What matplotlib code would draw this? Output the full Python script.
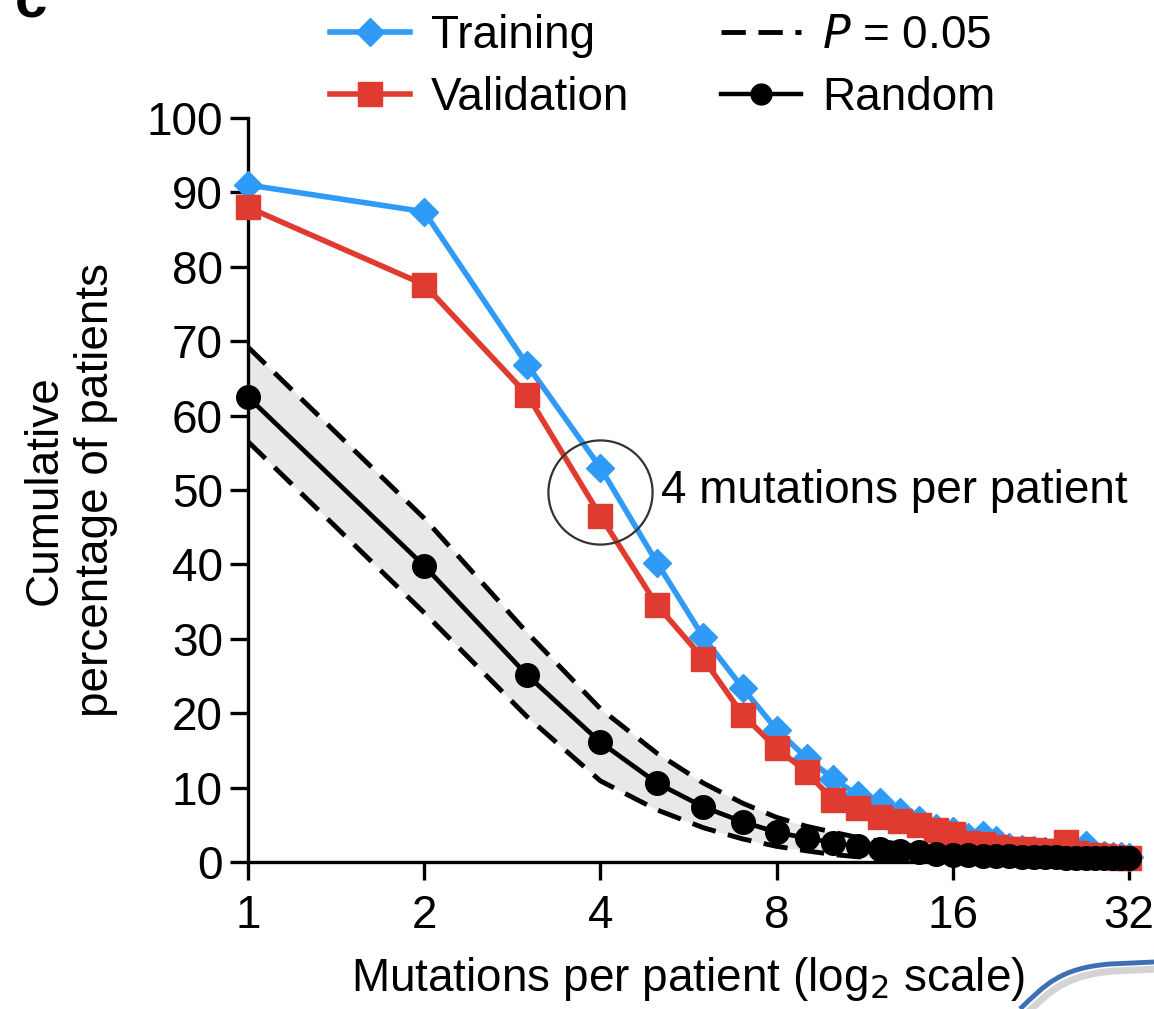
import matplotlib
matplotlib.use("Agg")
import matplotlib.pyplot as plt
from matplotlib.path import Path
from matplotlib.patches import PathPatch
from matplotlib.lines import Line2D

plt.rcParams['font.family'] = ['Liberation Sans', 'DejaVu Sans']

# mutations per patient (1..32)
mutations = list(range(1, 33))

training = [91.0, 87.4, 66.8, 53.0, 40.2, 30.2, 23.4, 17.8, 14.0, 11.2,
            9.0, 8.0, 6.7, 5.6, 4.6, 4.2, 3.4, 3.6, 3.0, 2.0,
            1.8, 1.6, 1.5, 1.4, 1.3, 1.2, 2.3, 1.0, 0.9, 0.8, 0.8, 0.7]
validation = [88.0, 77.6, 62.8, 46.5, 34.5, 27.3, 19.8, 15.3, 12.1, 8.3,
              7.3, 6.0, 5.5, 5.0, 4.3, 3.8, 2.6, 2.4, 2.0, 1.8,
              1.7, 1.6, 1.5, 1.5, 2.7, 1.2, 1.0, 0.9, 0.8, 0.7, 0.6, 0.5]
random_mean = [62.5, 39.8, 25.1, 16.1, 10.6, 7.4, 5.4, 4.0, 3.2, 2.6,
               2.1, 1.8, 1.5, 1.3, 1.1, 1.0, 0.9, 0.85, 0.8, 0.75,
               0.7, 0.7, 0.65, 0.65, 0.6, 0.6, 0.6, 0.55, 0.55, 0.5, 0.5, 0.5]
upper = [69.2, 46.2, 30.8, 20.6, 14.6, 10.6, 7.9, 6.0, 4.8, 4.0,
         3.3, 2.8, 2.4, 2.1, 1.9, 1.7, 1.5, 1.4, 1.3, 1.2,
         1.2, 1.1, 1.1, 1.0, 1.0, 1.0, 1.0, 1.0, 1.0, 1.0, 1.0, 1.0]
lower = [56.5, 33.5, 19.5, 10.9, 7.0, 4.6, 3.1, 2.1, 1.5, 1.0,
         0.7, 0.5, 0.3, 0.2, 0.1, 0.1, 0.0, 0.0, 0.0, 0.0,
         0.0, 0.0, 0.0, 0.0, 0.0, 0.0, 0.0, 0.0, 0.0, 0.0, 0.0, 0.0]

blue = '#2f9bf7'
red = '#e03b30'
dash = (0, (5.0, 2.6))

fig = plt.figure(figsize=(11.54, 10.09), dpi=100)
ax = fig.add_axes([0.2149, 0.1457, 0.7634, 0.7374])

ax.fill_between(mutations, lower, upper, color='#e8e8e8', lw=0, zorder=1)
ax.plot(mutations, upper, color='black', ls=dash, lw=3.5, zorder=2)
ax.plot(mutations, lower, color='black', ls=dash, lw=3.5, zorder=2)

ax.plot(mutations, training, color=blue, marker='D', ms=14, lw=4,
        clip_on=False, zorder=3)
ax.plot(mutations, validation, color=red, marker='s', ms=17, lw=4,
        clip_on=False, zorder=4)
ax.plot(mutations, random_mean, color='black', marker='o', ms=17, lw=3.4,
        clip_on=False, zorder=5)

# highlight circle at 4 mutations per patient
ax.plot([4], [49.7], marker='o', ms=75, mfc='none', mec='#333333', mew=1.6,
        zorder=6, clip_on=False)
ax.text(5.07, 49.9, '4 mutations per patient', fontsize=33, va='center',
        ha='left')

ax.set_xscale('log', base=2)
ax.set_xlim(1, 32)
ax.set_ylim(0, 100)
ticks = [1, 2, 4, 8, 16, 32]
ax.set_xticks(ticks)
ax.set_xticklabels([str(t) for t in ticks])
ax.minorticks_off()
ax.set_yticks(range(0, 101, 10))

for s in ['top', 'right']:
    ax.spines[s].set_visible(False)
for s in ['left', 'bottom']:
    ax.spines[s].set_linewidth(2.4)
ax.tick_params(axis='both', which='major', direction='out', length=13,
               width=2.4, labelsize=33, pad=5)
ax.tick_params(axis='x', pad=10)

ax.set_xlabel('Mutations per patient (log$_2$ scale)', fontsize=33, labelpad=12)
ax.set_ylabel('Cumulative\npercentage of patients', fontsize=33,
              linespacing=1.2)
ax.yaxis.set_label_coords(-0.148, 0.5)

handles = [
    Line2D([], [], color=blue, marker='D', ms=14, lw=4),
    Line2D([], [], color=red, marker='s', ms=17, lw=4),
    Line2D([], [], color='black', ls=dash, lw=3.5),
    Line2D([], [], color='black', marker='o', ms=15, lw=3.2),
]
labels = ['Training', 'Validation', '$P$ = 0.05', 'Random']
fig.legend(handles, labels, loc='upper left', bbox_to_anchor=(0.286, 0.986),
           ncol=2, frameon=False, fontsize=33, handlelength=1.75,
           handletextpad=0.45, columnspacing=2.0, labelspacing=0.4,
           borderaxespad=0, borderpad=0)

# panel letter, partly cut at top
fig.text(0.013, 0.998, 'c', fontsize=42, fontweight='bold', va='center',
         ha='left')

# decorative swoosh at bottom right
W, H = 1154.0, 1009.0
pts = [(1020, 1009), (1045, 985), (1060, 968), (1110, 964), (1154, 962)]
codes = [Path.MOVETO, Path.CURVE4, Path.CURVE4, Path.CURVE4, Path.LINETO]
shadow = [(x + 4) / W for x, y in pts], [1 - (y + 7) / H for x, y in pts]
shadow = list(zip(*shadow))
fig.patches.append(PathPatch(Path(shadow, codes), transform=fig.transFigure,
                             fill=False, edgecolor='#d4d4d4', lw=5))
verts = [(x / W, 1 - y / H) for x, y in pts]
fig.patches.append(PathPatch(Path(verts, codes), transform=fig.transFigure,
                             fill=False, edgecolor='#3d6fb3', lw=3.5))

fig.savefig('out.png', dpi=100)
